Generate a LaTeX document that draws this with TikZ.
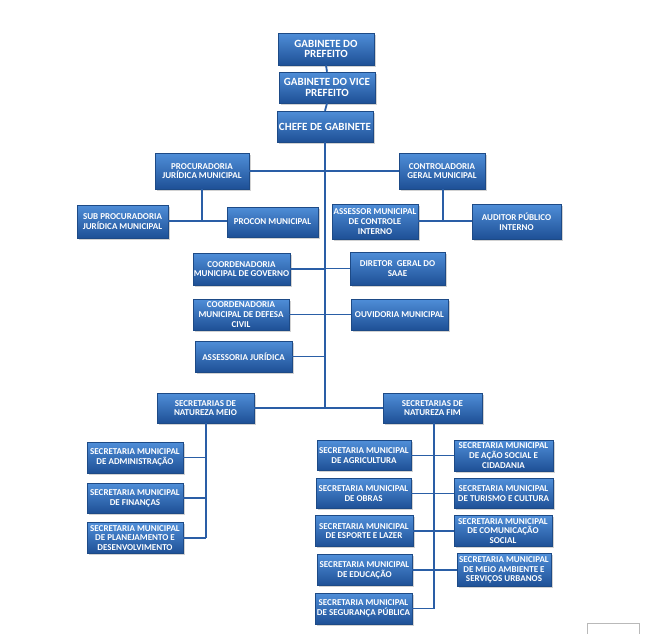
\documentclass[tikz,border=0pt]{standalone}
\usepackage{fontspec}
\setmainfont{Carlito}
\usetikzlibrary{shadows}
\definecolor{boxtop}{HTML}{4F8ED8}
\definecolor{boxmid}{HTML}{2F6DBA}
\definecolor{boxbot}{HTML}{1E5096}
\definecolor{boxedge}{HTML}{1D4A86}
\definecolor{linecol}{HTML}{2A5EA6}
\tikzset{
  box/.style={rectangle, draw=boxedge, line width=0.5pt,
    top color=boxtop, middle color=boxmid, bottom color=boxbot,
    text=white, align=center, inner xsep=0pt, inner ysep=1pt,
    font=\fontsize{9}{9.6}\selectfont\bfseries,
    drop shadow={shadow xshift=1.6pt, shadow yshift=-1.6pt, opacity=0.35}},
  bigbox/.style={box, font=\fontsize{11}{10.8}\selectfont\bfseries},
  conn/.style={draw=linecol, line width=1.8pt},
}
\begin{document}
\begin{tikzpicture}[x=1pt,y=-1pt]
\useasboundingbox[fill=white] (0,0) rectangle (666,633);
% top
\node[bigbox, minimum width=96pt, minimum height=32pt] (gp) at (326,49) {GABINETE DO\\PREFEITO};
\node[bigbox, minimum width=96pt, minimum height=31pt] (gv) at (327,87.5) {GABINETE DO VICE\\PREFEITO};
\node[bigbox, minimum width=96pt, minimum height=31pt] (cg) at (325,126.5) {CHEFE DE GABINETE};
% second level
\node[box, minimum width=94pt, minimum height=36pt] (proc) at (202,171) {PROCURADORIA\\JURÍDICA MUNICIPAL};
\node[box, minimum width=86pt, minimum height=36pt] (ctrl) at (442,171) {CONTROLADORIA\\GERAL MUNICIPAL};
\node[box, minimum width=91pt, minimum height=33pt] (sub) at (122.5,221.5) {SUB PROCURADORIA\\JURÍDICA MUNICIPAL};
\node[box, minimum width=91pt, minimum height=30pt] (procon) at (272.5,222) {PROCON MUNICIPAL};
\node[box, minimum width=86pt, minimum height=35pt] (assess) at (375,221.5) {ASSESSOR MUNICIPAL\\DE CONTROLE\\INTERNO};
\node[box, minimum width=89pt, minimum height=35pt] (audit) at (516.5,221.5) {AUDITOR PÚBLICO\\INTERNO};
% middle
\node[box, minimum width=97pt, minimum height=32pt] (cgov) at (241.5,269) {COORDENADORIA\\MUNICIPAL DE GOVERNO};
\node[box, minimum width=95pt, minimum height=33pt] (saae) at (397.5,268.5) {DIRETOR\ \ GERAL DO\\SAAE};
\node[box, minimum width=96pt, minimum height=31pt] (civil) at (241,314.5) {COORDENADORIA\\MUNICIPAL DE DEFESA\\CIVIL};
\node[box, minimum width=97pt, minimum height=31pt] (ouv) at (399.5,314.5) {OUVIDORIA MUNICIPAL};
\node[box, minimum width=97pt, minimum height=31pt] (ajur) at (243.5,356.5) {ASSESSORIA JURÍDICA};
% secretarias
\node[box, minimum width=97pt, minimum height=30pt] (meio) at (205.5,408) {SECRETARIAS DE\\NATUREZA MEIO};
\node[box, minimum width=99pt, minimum height=30pt] (fim) at (432.5,408) {SECRETARIAS DE\\NATUREZA FIM};
\node[box, minimum width=96pt, minimum height=31pt] (adm) at (135,457.5) {SECRETARIA MUNICIPAL\\DE ADMINISTRAÇÃO};
\node[box, minimum width=96pt, minimum height=30pt] (fin) at (135,498) {SECRETARIA MUNICIPAL\\DE FINANÇAS};
\node[box, minimum width=96pt, minimum height=31pt] (plan) at (135,538) {SECRETARIA MUNICIPAL\\DE PLANEJAMENTO E\\DESENVOLVIMENTO};
\node[box, minimum width=94pt, minimum height=30pt] (agr) at (364,455.5) {SECRETARIA MUNICIPAL\\DE AGRICULTURA};
\node[box, minimum width=99pt, minimum height=31pt] (acao) at (503.5,455.5) {SECRETARIA MUNICIPAL\\DE AÇÃO SOCIAL E\\CIDADANIA};
\node[box, minimum width=95pt, minimum height=30pt] (obras) at (363.5,493.5) {SECRETARIA MUNICIPAL\\DE OBRAS};
\node[box, minimum width=99pt, minimum height=30pt] (tur) at (503.5,493.5) {SECRETARIA MUNICIPAL\\DE TURISMO E CULTURA};
\node[box, minimum width=98pt, minimum height=31pt] (esp) at (364,531) {SECRETARIA MUNICIPAL\\DE ESPORTE E LAZER};
\node[box, minimum width=98pt, minimum height=31pt] (com) at (503,531) {SECRETARIA MUNICIPAL\\DE COMUNICAÇÃO\\SOCIAL};
\node[box, minimum width=95pt, minimum height=31pt] (edu) at (364.5,570) {SECRETARIA MUNICIPAL\\DE EDUCAÇÃO};
\node[box, minimum width=94pt, minimum height=33pt] (amb) at (504,570) {SECRETARIA MUNICIPAL\\DE MEIO AMBIENTE E\\SERVIÇOS URBANOS};
\node[box, minimum width=97pt, minimum height=31pt] (seg) at (363.5,608.5) {SECRETARIA MUNICIPAL\\DE SEGURANÇA PÚBLICA};
% connectors
\coordinate (mbot) at (325,408);
\coordinate (pbot) at (202,221);
\coordinate (cbot) at (443,221);
\coordinate (meiobot) at (206,538);
\coordinate (fimbot) at (434,608.5);
\draw[conn] (gp.south) -- (gv.north);
\draw[conn] (gv.south) -- (cg.north);
\draw[conn] (cg.south) -- (mbot);
\draw[conn] (proc.east) -- (ctrl.west);
\draw[conn] (proc.south) -- (pbot);
\draw[conn] (sub.east |- pbot) -- (procon.west |- pbot);
\draw[conn] (ctrl.south -| cbot) -- (cbot);
\draw[conn] (assess.east |- cbot) -- (audit.west |- cbot);
\draw[conn] (cgov.east) -- (cgov.east -| mbot);
\draw[conn] (saae.west) -- (saae.west -| mbot);
\draw[conn] (civil.east) -- (civil.east -| mbot);
\draw[conn] (ouv.west) -- (ouv.west -| mbot);
\draw[conn] (ajur.east) -- (ajur.east -| mbot);
\draw[conn] (meio.east) -- (fim.west);
\draw[conn] (meio.south -| meiobot) -- (meiobot);
\draw[conn] (adm.east) -- (adm.east -| meiobot);
\draw[conn] (fin.east) -- (fin.east -| meiobot);
\draw[conn] (plan.east) -- (meiobot);
\draw[conn] (fim.south -| fimbot) -- (fimbot);
\draw[conn] (agr.east) -- (agr.east -| fimbot);
\draw[conn] (acao.west) -- (acao.west -| fimbot);
\draw[conn] (obras.east) -- (obras.east -| fimbot);
\draw[conn] (tur.west) -- (tur.west -| fimbot);
\draw[conn] (esp.east) -- (esp.east -| fimbot);
\draw[conn] (com.west) -- (com.west -| fimbot);
\draw[conn] (edu.east) -- (edu.east -| fimbot);
\draw[conn] (amb.west) -- (amb.west -| fimbot);
\draw[conn] (seg.east) -- (fimbot);
% small frame at bottom right
\draw[gray!55, line width=0.8pt] (587,623) rectangle (639,640);
\end{tikzpicture}
\end{document}
